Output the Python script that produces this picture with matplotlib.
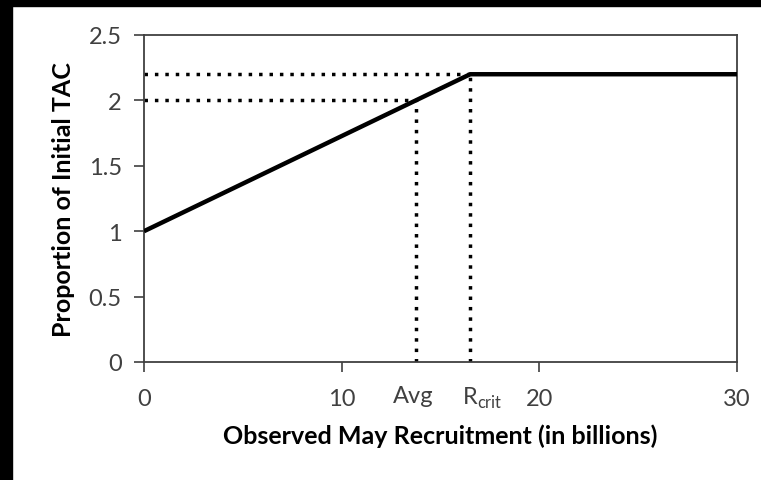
import matplotlib
matplotlib.use("Agg")
from matplotlib import pyplot as plt
import matplotlib.transforms as mtransforms

plt.rcParams['font.family'] = ['Lato', 'DejaVu Sans']

# harvest control rule
rule_x = [0, 16.5, 30]
rule_y = [1.0, 2.2, 2.2]
avg_x = 13.75
avg_y = 2.0
rcrit_x = 16.5
rcrit_y = 2.2
xticks = [0, 10, 20, 30]
yticks = [0, 0.5, 1, 1.5, 2, 2.5]
ytick_labels = ["0", "0.5", "1", "1.5", "2", "2.5"]

fig = plt.figure(figsize=(7.61, 4.81), dpi=100)
# black border on left / top like the screenshot
fig.patches.append(plt.Rectangle((0, 0), 12/761, 1, transform=fig.transFigure, color="black", zorder=0))
fig.patches.append(plt.Rectangle((0, 1 - 7/481), 1, 7/481, transform=fig.transFigure, color="black", zorder=0))

ax = fig.add_axes([144/761, 1 - 363/481, (737-144)/761, (363-36)/481])

ax.plot(rule_x, rule_y, color="black", lw=3.2, solid_capstyle="butt", zorder=3)

dot = dict(color="black", lw=2.5, linestyle=(0, (1, 2.0)), zorder=2)
ax.plot([0, avg_x], [avg_y, avg_y], **dot)
ax.plot([avg_x, avg_x], [0, avg_y], **dot)
ax.plot([0, rcrit_x], [rcrit_y, rcrit_y], **dot)
ax.plot([rcrit_x, rcrit_x], [0, rcrit_y], **dot)

ax.set_xlim(0, 30)
ax.set_ylim(0, 2.5)
ax.set_xticks(xticks)
ax.set_yticks(yticks)
ax.set_yticklabels(ytick_labels)
ax.tick_params(colors="#404040", labelcolor="#404040", labelsize=17, length=7, width=1.2)
ax.tick_params(axis="x", pad=12)
ax.tick_params(axis="y", pad=9)
for s in ax.spines.values():
    s.set_color("#404040")
    s.set_linewidth(1.3)

trans = mtransforms.blended_transform_factory(ax.transData, ax.transAxes)
ax.text(avg_x - 0.15, -0.07, "Avg", transform=trans, ha="center", va="top", fontsize=17, color="#404040")
ax.text(rcrit_x + 0.6, -0.07, r"R$_{\mathregular{crit}}$", transform=trans, ha="center", va="top", fontsize=17, color="#404040")

ax.set_xlabel("Observed May Recruitment (in billions)", fontsize=18, fontweight="bold", labelpad=10)
ax.set_ylabel("Proportion of Initial TAC", fontsize=18, fontweight="bold", labelpad=10)

plt.savefig("out.png", dpi=100)
